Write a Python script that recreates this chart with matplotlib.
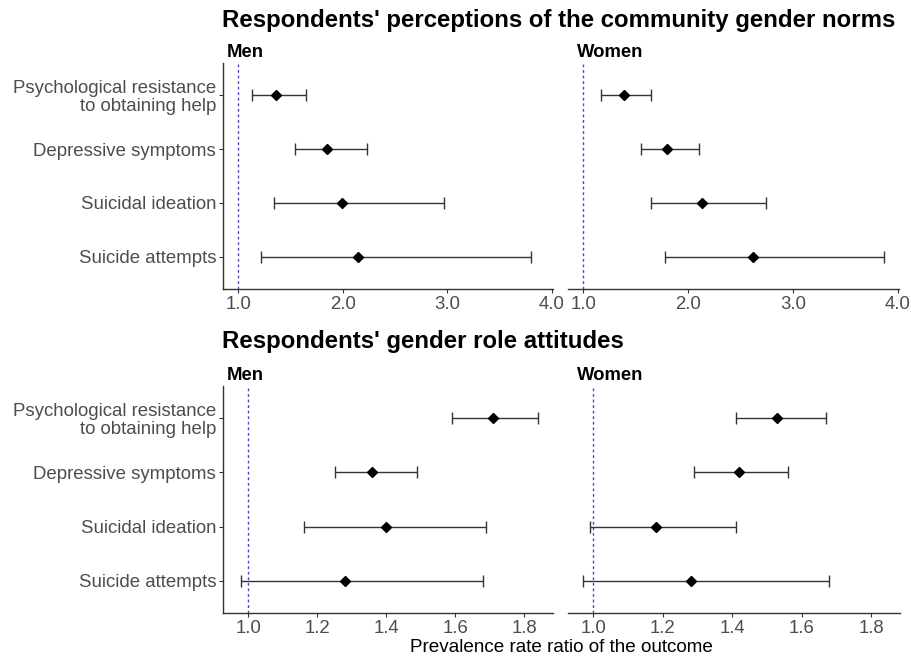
import matplotlib
matplotlib.use('Agg')
import matplotlib.pyplot as plt
import numpy as np

plt.rcParams['font.family'] = ['Liberation Sans', 'DejaVu Sans']

outcomes = ["Psychological resistance\nto obtaining help", "Depressive symptoms",
            "Suicidal ideation", "Suicide attempts"]

# Respondents' perceptions of the community gender norms
norms_men_est = [1.36, 1.85, 1.99, 2.15]
norms_men_lo = [1.13, 1.54, 1.34, 1.22]
norms_men_hi = [1.65, 2.23, 2.97, 3.80]
norms_women_est = [1.39, 1.80, 2.13, 2.62]
norms_women_lo = [1.17, 1.55, 1.65, 1.78]
norms_women_hi = [1.65, 2.10, 2.74, 3.87]

# Respondents' gender role attitudes
att_men_est = [1.71, 1.36, 1.40, 1.28]
att_men_lo = [1.59, 1.25, 1.16, 0.98]
att_men_hi = [1.84, 1.49, 1.69, 1.68]
att_women_est = [1.53, 1.42, 1.18, 1.28]
att_women_lo = [1.41, 1.29, 0.99, 0.97]
att_women_hi = [1.67, 1.56, 1.41, 1.68]

top_ticks = [1.0, 2.0, 3.0, 4.0]
bottom_ticks = [1.0, 1.2, 1.4, 1.6, 1.8]

W, H = 912, 660
fig = plt.figure(figsize=(W / 100, H / 100), dpi=100)


def px_axes(x0, y0, x1, y1):
    return fig.add_axes([x0 / W, 1 - y1 / H, (x1 - x0) / W, (y1 - y0) / H])


def draw(ax, est, lo, hi, xlim, ticks, show_y):
    est = np.array(est); lo = np.array(lo); hi = np.array(hi)
    y = np.arange(len(outcomes))[::-1] + 1
    ax.axvline(1.0, color='#4848c8', ls=(0, (2.0, 2.0)), lw=1.0, zorder=1)
    ax.errorbar(est, y, xerr=[est - lo, hi - est], fmt='none', ecolor='#333333',
                elinewidth=1.0, capsize=4, capthick=1.0, zorder=2)
    ax.plot(est, y, 'D', color='black', ms=5.6, zorder=3)
    ax.set_xlim(*xlim)
    ax.set_ylim(0.4, 4.6)
    ax.set_xticks(ticks)
    ax.set_xticklabels([f"{t:.1f}" for t in ticks])
    for s in ['top', 'right']:
        ax.spines[s].set_visible(False)
    ax.spines['bottom'].set_color('#333333')
    ax.spines['bottom'].set_linewidth(1.0)
    ax.tick_params(axis='x', length=3, width=0.8, color='#333333', labelsize=13.4,
                   labelcolor='#4d4d4d', pad=2)
    ax.set_facecolor('none')
    if show_y:
        ax.spines['left'].set_color('#333333')
        ax.spines['left'].set_linewidth(1.0)
        ax.set_yticks(y)
        ax.set_yticklabels(outcomes, linespacing=1.05)
        ax.tick_params(axis='y', length=3, width=0.8, color='#333333', labelsize=13.4,
                       labelcolor='#4d4d4d', pad=2)
    else:
        ax.spines['left'].set_visible(False)
        ax.set_yticks([])


top_xlim = (0.856, 4.01)
bot_xlim = (0.9265, 1.8835)

ax1 = px_axes(223, 63, 553, 289)
draw(ax1, norms_men_est, norms_men_lo, norms_men_hi, top_xlim, top_ticks, True)
ax2 = px_axes(568, 63, 899, 289)
draw(ax2, norms_women_est, norms_women_lo, norms_women_hi, top_xlim, top_ticks, False)
ax3 = px_axes(223, 386, 553, 613)
draw(ax3, att_men_est, att_men_lo, att_men_hi, bot_xlim, bottom_ticks, True)
ax4 = px_axes(568, 386, 900, 613)
draw(ax4, att_women_est, att_women_lo, att_women_hi, bot_xlim, bottom_ticks, False)

fig.text(222 / W, 1 - 27 / H, "Respondents' perceptions of the community gender norms",
         fontsize=17.3, fontweight='bold', va='baseline', ha='left')
fig.text(222 / W, 1 - 348 / H, "Respondents' gender role attitudes",
         fontsize=17.3, fontweight='bold', va='baseline', ha='left')
for yb in (57, 380):
    fig.text(227 / W, 1 - yb / H, "Men", fontsize=13.3, fontweight='bold', va='baseline', ha='left')
    fig.text(577 / W, 1 - yb / H, "Women", fontsize=13.3, fontweight='bold', va='baseline', ha='left')

fig.text(561 / W, 1 - 648 / H, "Prevalence rate ratio of the outcome", fontsize=13.6,
         ha='center', va='center')

fig.savefig('out.png', dpi=100, facecolor='white')
